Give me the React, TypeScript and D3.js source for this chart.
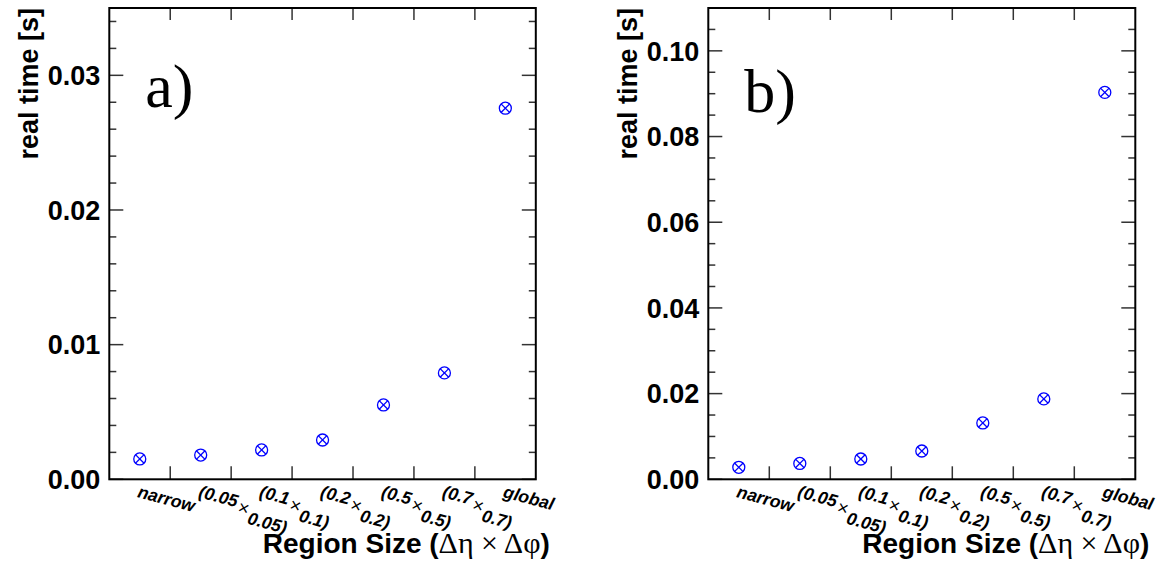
import React from "react";
import * as d3 from "d3";

const categories = ["narrow", "(0.05×0.05)", "(0.1×0.1)", "(0.2×0.2)", "(0.5×0.5)", "(0.7×0.7)", "global"];
const seriesA = [0.00151, 0.0018, 0.00218, 0.00292, 0.00552, 0.0079, 0.02756];
const seriesB = [0.0028, 0.0037, 0.00474, 0.0066, 0.01315, 0.01876, 0.0903];
const yTicksA = [0, 0.01, 0.02, 0.03];
const yTicksB = [0, 0.02, 0.04, 0.06, 0.08, 0.1];

const W = 1157, H = 565;
const TOP = 8, BOTTOM = 479.3;
const SANS = "'Liberation Sans', Arial, Helvetica, sans-serif";
const SERIF = "'Liberation Serif', 'Times New Roman', serif";

type PanelProps = {
  left: number; right: number; values: number[]; yMax: number;
  yTicks: number[]; minorStep: number; fmt: (v: number) => string; letter: string; letterY: number;
};

function Panel({ left, right, values, yMax, yTicks, minorStep, fmt, letter, letterY }: PanelProps) {
  const x = d3.scaleBand<string>().domain(categories).range([left, right]).padding(0);
  const y = d3.scaleLinear().domain([0, yMax]).range([BOTTOM, TOP]);
  const minor = d3.range(0, yMax + 1e-9, minorStep).filter(v => !yTicks.some(t => Math.abs(t - v) < 1e-9));
  const edges = categories.slice(1).map(c => x(c) as number);
  const r = 6;
  const k = r * 0.72;
  return (
    <g>
      {yTicks.map(t => (
        <g key={"M" + t}>
          <line x1={left} x2={left + 14} y1={y(t)} y2={y(t)} stroke="#333" strokeWidth={1.5} />
          <line x1={right} x2={right - 14} y1={y(t)} y2={y(t)} stroke="#333" strokeWidth={1.5} />
          <text x={left - 9} y={y(t)} dy="0.36em" textAnchor="end" fontFamily={SANS} fontWeight="bold" fontSize={27} fill="#000">{fmt(t)}</text>
        </g>
      ))}
      {minor.map(t => (
        <g key={"m" + t}>
          <line x1={left} x2={left + 7} y1={y(t)} y2={y(t)} stroke="#333" strokeWidth={1.5} />
          <line x1={right} x2={right - 7} y1={y(t)} y2={y(t)} stroke="#333" strokeWidth={1.5} />
        </g>
      ))}
      {edges.map((e, i) => (
        <g key={"e" + i}>
          <line x1={e} x2={e} y1={BOTTOM} y2={BOTTOM - 13} stroke="#333" strokeWidth={1.5} />
          <line x1={e} x2={e} y1={TOP} y2={TOP + 12} stroke="#333" strokeWidth={1.5} />
        </g>
      ))}
      <rect x={left} y={TOP} width={right - left} height={BOTTOM - TOP} fill="none" stroke="#000" strokeWidth={2} />
      {categories.map(c => {
        const cx = (x(c) as number) + x.bandwidth() / 2;
        const parts = c.split("×");
        return (
          <text key={c} transform={`translate(${cx - 3},497) rotate(15)`} fontFamily={SANS} fontSize={17.5} fill="#000">
            {parts.length === 1 ? (
              <tspan fontWeight="bold" fontStyle="italic">{c}</tspan>
            ) : (
              <>
                <tspan fontWeight="bold" fontStyle="italic">{parts[0]}</tspan>
                <tspan dx={2} dy={5} fontWeight="normal" fontSize={19}>×</tspan>
                <tspan dx={1} dy={8} fontWeight="bold" fontStyle="italic">{parts[1]}</tspan>
              </>
            )}
          </text>
        );
      })}
      {values.map((v, i) => {
        const cx = (x(categories[i]) as number) + x.bandwidth() / 2;
        const cy = y(v);
        return (
          <g key={"p" + i} stroke="#0000ff" strokeWidth={1.3} fill="none">
            <circle cx={cx} cy={cy} r={r} />
            <line x1={cx - k} y1={cy - k} x2={cx + k} y2={cy + k} />
            <line x1={cx - k} y1={cy + k} x2={cx + k} y2={cy - k} />
          </g>
        );
      })}
      <text transform={`translate(${left - 71},${TOP}) rotate(-90)`} textAnchor="end" fontFamily={SANS} fontWeight="bold" fontSize={27} fill="#000">real time [s]</text>
      <text x={right + 14} y={553} textAnchor="end" fontFamily={SANS} fontWeight="bold" fontSize={28} fill="#000">
        Region Size (<tspan fontFamily={SERIF} fontWeight="normal" fontSize={30}>Δη × Δφ</tspan>)
      </text>
      <text x={left + 36} y={letterY} fontFamily={SERIF} fontSize={62} fill="#000">{letter}</text>
    </g>
  );
}

export default function App() {
  return (
    <svg width={W} height={H} style={{ position: "absolute", left: 0, top: 0, background: "#fff" }}>
      <rect width={W} height={H} fill="#fff" />
      <Panel left={109.3} right={535.8} values={seriesA} yMax={0.035} yTicks={yTicksA} minorStep={0.002}
        fmt={v => v.toFixed(2)} letter="a)" letterY={107} />
      <Panel left={708.3} right={1135.3} values={seriesB} yMax={0.11} yTicks={yTicksB} minorStep={0.005}
        fmt={v => v.toFixed(2)} letter="b)" letterY={112} />
    </svg>
  );
}
